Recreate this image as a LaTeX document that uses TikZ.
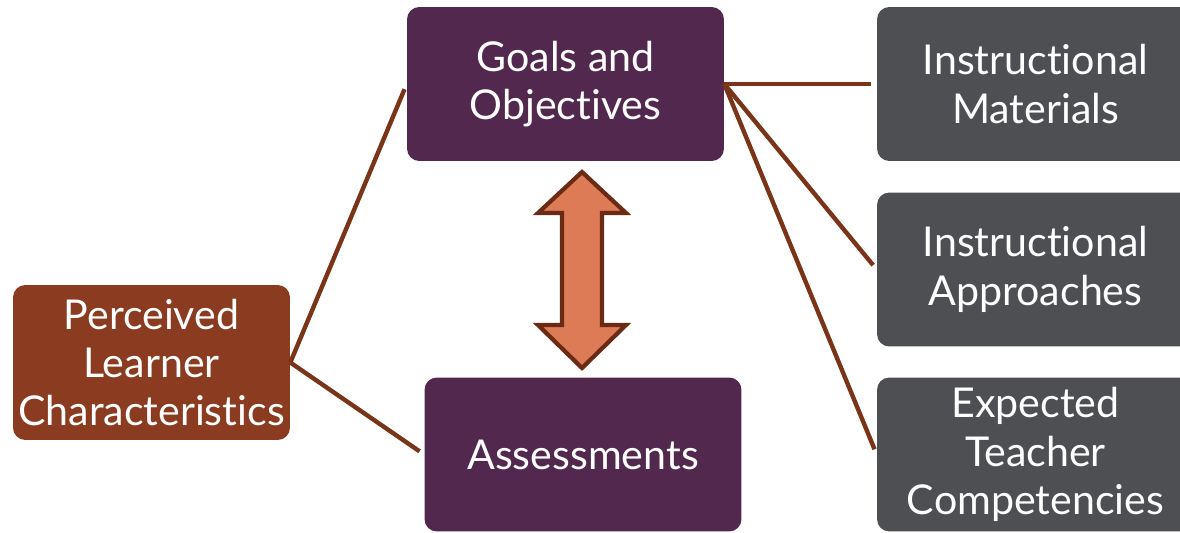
\documentclass[tikz,border=0pt]{standalone}
\usepackage{fontspec}
\setmainfont{Lato}[Ligatures={NoCommon,NoRequired,NoContextual}]
\usetikzlibrary{calc}
\definecolor{plum}{HTML}{52284F}
\definecolor{rust}{HTML}{8B3B1F}
\definecolor{slate}{HTML}{4E4F53}
\definecolor{linkbrown}{HTML}{7A3418}
\definecolor{arrowfill}{HTML}{DD7B57}
\definecolor{arrowedge}{HTML}{6B2A14}
\begin{document}
\begin{tikzpicture}[x=0.02cm,y=-0.02cm,
  box/.style={rounded corners=7pt, text=white, align=center, inner sep=0pt,
    font=\fontsize{23.4}{27.5}\selectfont, minimum width=6.34cm, minimum height=3.08cm},
  goalbox/.style={box, fill=plum},
  sidebox/.style={box, fill=slate},
  learnerbox/.style={box, fill=rust, minimum width=5.54cm, minimum height=3.1cm},
  link/.style={draw=linkbrown, line width=2.5pt, shorten >=3.2pt}]
\useasboundingbox (0,0) rectangle (1180,532);

% central column
\node[goalbox] (goals) at (565.5,84) {Goals and\\Objectives};
\node[goalbox] (assess) at (583,454.5) {Assessments};

% learner characteristics on the left
\node[learnerbox] (learner) at (151.5,362.5) {Perceived\\Learner\\Characteristics};

% instructional elements on the right
\node[sidebox] (materials) at (1035.5,84) {Instructional\\Materials};
\node[sidebox] (approaches) at (1035.5,269.5) {Instructional\\Approaches};
\node[sidebox] (teacher) at (1035.5,454.5) {Expected\\Teacher\\Competencies};

% connectors
\draw[link] (learner.east) -- (goals.west);
\draw[link] (learner.east) -- (assess.west);
\draw[link] (goals.east) -- (materials.west);
\draw[link] (goals.east) -- (approaches.west);
\draw[link] (goals.east) -- (teacher.west);

% two-headed arrow between goals and assessments
\coordinate (dbl) at (582,270);
\draw[fill=arrowfill, draw=arrowedge, line width=2.4pt, line join=miter]
  ($(dbl)+(0,-98)$) -- ++(44,41) -- ++(-24,0) -- ++(0,112) -- ++(24,0)
  -- ++(-44,43) -- ++(-44,-43) -- ++(24,0) -- ++(0,-112) -- ++(-24,0) -- cycle;
\end{tikzpicture}
\end{document}
